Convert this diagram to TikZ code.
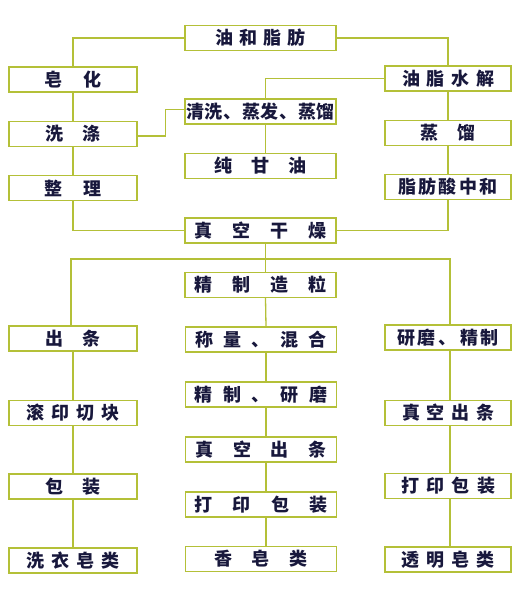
\documentclass[tikz,border=0pt]{standalone}
\usepackage{fontspec}
\newfontfamily\cjk{Noto Sans CJK SC}
\definecolor{boxline}{RGB}{180,192,56}
\definecolor{txtcol}{RGB}{24,24,60}
\newcommand{\spr}[2]{\makebox[#1pt][s]{#2}}
\tikzset{
  procbox/.style={draw=boxline, line width=1.3pt, minimum height=25, inner sep=0pt,
    text=txtcol, font=\cjk\bfseries\fontsize{18}{18}\selectfont},
  leftbox/.style={procbox, minimum width=128},
  midbox/.style={procbox, minimum width=151},
  rightbox/.style={procbox, minimum width=126},
  link/.style={draw=boxline, line width=1.3pt}
}
\begin{document}
\begin{tikzpicture}[x=1pt, y=-1pt]
            \useasboundingbox (0, 0) rectangle (519, 600);
            \node [midbox] (oil) at (260.5, 38) {\spr{90}{油\hfill 和\hfill 脂\hfill 肪}};
            \node [leftbox] (zaohua) at (73, 79.5) {\spr{57}{皂\hfill 化}};
            \node [rightbox] (shuijie) at (448, 78.5) {\spr{92}{油\hfill 脂\hfill 水\hfill 解}};
            \node [midbox] (qingxi) at (260.5, 111.5) {\spr{149}{清\hfill 洗\hfill 、\hfill 蒸\hfill 发\hfill 、\hfill 蒸\hfill 馏}};
            \node [leftbox] (xidi) at (73, 134) {\spr{55}{洗\hfill 涤}};
            \node [rightbox] (zhengliu) at (448, 133) {\spr{55}{蒸\hfill 馏}};
            \node [midbox] (ganyou) at (260.5, 166) {\spr{93}{纯\hfill 甘\hfill 油}};
            \node [leftbox] (zhengli) at (73, 188) {\spr{57}{整\hfill 理}};
            \node [rightbox] (zhifang) at (448, 187) {\spr{100}{脂\hfill 肪\hfill 酸\hfill 中\hfill 和}};
            \node [midbox] (ganzao) at (260.5, 230.5) {\spr{132}{真\hfill 空\hfill 干\hfill 燥}};
            \node [midbox] (zaoli) at (260.5, 285) {\spr{132}{精\hfill 制\hfill 造\hfill 粒}};
            \node [leftbox] (chutiao) at (73, 338.5) {\spr{55}{出\hfill 条}};
            \node [midbox] (chenliang) at (261, 339.5) {\spr{132}{称\hfill 量\hfill 、\hfill 混\hfill 合}};
            \node [rightbox] (yanmo) at (448, 337.5) {\spr{102}{研\hfill 磨\hfill 、\hfill 精\hfill 制}};
            \node [leftbox] (gunyin) at (73, 413) {\spr{94}{滚\hfill 印\hfill 切\hfill 块}};
            \node [midbox] (jingzhi) at (261, 394.5) {\spr{133}{精\hfill 制\hfill 、\hfill 研\hfill 磨}};
            \node [rightbox] (chutiaoR) at (448, 413) {\spr{92}{真\hfill 空\hfill 出\hfill 条}};
            \node [midbox] (chutiaoM) at (261, 449.5) {\spr{132}{真\hfill 空\hfill 出\hfill 条}};
            \node [leftbox] (baozhuang) at (73, 486.5) {\spr{55}{包\hfill 装}};
            \node [rightbox] (dayinR) at (448, 486) {\spr{94}{打\hfill 印\hfill 包\hfill 装}};
            \node [midbox] (dayinM) at (261, 504.5) {\spr{133}{打\hfill 印\hfill 包\hfill 装}};
            \node [leftbox] (xiyi) at (73, 560.5) {\spr{93}{洗\hfill 衣\hfill 皂\hfill 类}};
            \node [midbox] (xiangzao) at (261, 559) {\spr{94}{香\hfill 皂\hfill 类}};
            \node [rightbox] (touming) at (448, 559.5) {\spr{93}{透\hfill 明\hfill 皂\hfill 类}};
            \coordinate (fenzhi) at (266, 259);
            \draw [link] (oil.west) -| (zaohua.north);
            \draw [link] (oil.east) -| (shuijie.north);
            \draw [link] (shuijie.west) -| ([xshift=5pt]qingxi.north);
            \draw [link] ([xshift=5pt]qingxi.south) -- ([xshift=5pt]ganyou.north);
            \draw [link] (zaohua.south) -- (xidi.north);
            \draw [link] ([yshift=-2pt]xidi.east) -- ++(28, 0) |- ([yshift=2pt]qingxi.west);
            \draw [link] (xidi.south) -- (zhengli.north);
            \draw [link] (shuijie.south) -- (zhengliu.north);
            \draw [link] (zhengliu.south) -- (zhifang.north);
            \draw [link] (zhengli.south) |- (ganzao.west);
            \draw [link] (zhifang.south) |- (ganzao.east);
            \draw [link] ([xshift=5pt]ganzao.south) -- ([xshift=5pt]zaoli.north);
            \draw [link] ([xshift=5pt]zaoli.south) -- ([xshift=5pt]chenliang.north);
            \draw [link] (fenzhi) -| ([xshift=-2pt]chutiao.north);
            \draw [link] (fenzhi) -| ([xshift=2pt]yanmo.north);
            \draw [link] ([xshift=5pt]chenliang.south) -- ([xshift=5pt]jingzhi.north);
            \draw [link] ([xshift=5pt]jingzhi.south) -- ([xshift=5pt]chutiaoM.north);
            \draw [link] ([xshift=5pt]chutiaoM.south) -- ([xshift=5pt]dayinM.north);
            \draw [link] ([xshift=5pt]dayinM.south) -- ([xshift=5pt]xiangzao.north);
            \draw [link] (chutiao.south) -- (gunyin.north);
            \draw [link] (gunyin.south) -- (baozhuang.north);
            \draw [link] (baozhuang.south) -- (xiyi.north);
            \draw [link] ([xshift=2pt]yanmo.south) -- ([xshift=2pt]chutiaoR.north);
            \draw [link] ([xshift=2pt]chutiaoR.south) -- ([xshift=2pt]dayinR.north);
            \draw [link] ([xshift=2pt]dayinR.south) -- ([xshift=2pt]touming.north);
\end{tikzpicture}
\end{document}
